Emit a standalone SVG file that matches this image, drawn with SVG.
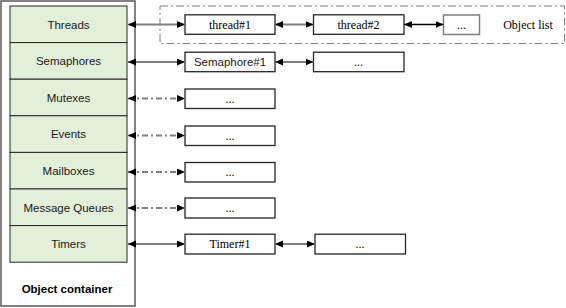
<svg xmlns="http://www.w3.org/2000/svg" width="566" height="308" viewBox="0 0 566 308">
<style>
.cell{fill:#e2efd9;stroke:#262626;stroke-width:1}
.box{fill:#fff;stroke:#262626;stroke-width:1.3}
.lbl{font-family:"Liberation Sans",Arial,sans-serif;font-size:11.5px;fill:#1a1a1a;text-anchor:middle}
.ser{font-family:"Liberation Serif","Times New Roman",serif;font-size:12px;fill:#000;text-anchor:middle}
.ln{stroke:#7f7f7f;stroke-width:2;fill:none;marker-start:url(#ah);marker-end:url(#ah)}
.dd{stroke-dasharray:6 3 2 3}
.blk{stroke:#000;stroke-width:1.3}
</style>
<defs>
<marker id="ah" markerUnits="userSpaceOnUse" markerWidth="9" markerHeight="8" refX="8" refY="3.5" orient="auto-start-reverse">
<path d="M0,0 L8,3.5 L0,7 z" fill="#000"/>
</marker>
</defs>
<rect width="566" height="308" fill="#fff"/>
<g id="container">
<rect x="1" y="1" width="134" height="305" fill="#fff" stroke="#595959" stroke-width="1.5"/>
<text x="67" y="293" font-family="'Liberation Sans',Arial,sans-serif" font-size="11.5" font-weight="bold" text-anchor="middle" fill="#000">Object container</text>
</g>
<g id="objlist">
<rect x="160" y="6" width="404.5" height="37.5" fill="none" stroke="#7f7f7f" stroke-width="1" stroke-dasharray="8 3 2 3"/>
<text x="528" y="28.5" class="ser">Object list</text>
</g>
<g id="cell-threads"><rect class="cell" x="10" y="6" width="117" height="36.6"/><text class="lbl" x="68.5" y="28.5">Threads</text></g>
<g id="cell-semaphores"><rect class="cell" x="10" y="42.6" width="117" height="36.6"/><text class="lbl" x="68.5" y="65">Semaphores</text></g>
<g id="cell-mutexes"><rect class="cell" x="10" y="79.2" width="117" height="36.6"/><text class="lbl" x="68.5" y="101.5">Mutexes</text></g>
<g id="cell-events"><rect class="cell" x="10" y="115.8" width="117" height="36.6"/><text class="lbl" x="68.5" y="138">Events</text></g>
<g id="cell-mailboxes"><rect class="cell" x="10" y="152.4" width="117" height="36.6"/><text class="lbl" x="68.5" y="175">Mailboxes</text></g>
<g id="cell-queues"><rect class="cell" x="10" y="189" width="117" height="36.6"/><text class="lbl" x="68.5" y="211.5">Message Queues</text></g>
<g id="cell-timers"><rect class="cell" x="10" y="225.6" width="117" height="36.6"/><text class="lbl" x="68.5" y="248">Timers</text></g>

<g id="thread1"><rect class="box" x="185" y="14.8" width="90" height="19.5"/><text class="ser" x="230" y="28.5">thread#1</text></g>
<g id="thread2"><rect class="box" x="313.5" y="14.8" width="90.5" height="19.5"/><text class="ser" x="358.5" y="28.5">thread#2</text></g>
<g id="thread-more"><rect x="443.5" y="15" width="36" height="19.5" fill="#fff" stroke="#7f7f7f" stroke-width="1.5"/><text class="ser" x="461.5" y="28.5">...</text></g>
<g id="sem1"><rect class="box" x="185" y="52.2" width="90" height="19.5"/><text class="lbl" x="230" y="66">Semaphore#1</text></g>
<g id="sem-more"><rect class="box" x="313.5" y="52.2" width="90.5" height="19.5"/><text class="ser" x="358.5" y="65.5">...</text></g>
<g id="mutex-more"><rect class="box" x="185" y="89" width="90" height="19.5"/><text class="ser" x="230" y="102.5">...</text></g>
<g id="event-more"><rect class="box" x="185" y="126" width="90" height="19.5"/><text class="ser" x="230" y="139.5">...</text></g>
<g id="mailbox-more"><rect class="box" x="185" y="162.5" width="90" height="19.5"/><text class="ser" x="230" y="176">...</text></g>
<g id="queue-more"><rect class="box" x="185" y="198" width="90" height="20"/><text class="ser" x="230" y="211.5">...</text></g>
<g id="timer1"><rect class="box" x="185" y="234.2" width="90" height="19.8"/><text class="ser" x="230" y="248">Timer#1</text></g>
<g id="timer-more"><rect class="box" x="315" y="234.2" width="90.5" height="19.8"/><text class="ser" x="360" y="248">...</text></g>

<g id="connectors">
<line class="ln" x1="128" y1="24.5" x2="185" y2="24.5"/>
<line class="ln" x1="275" y1="24.5" x2="313.5" y2="24.5"/>
<line class="ln blk" x1="404" y1="24.5" x2="443.5" y2="24.5"/>
<line class="ln" x1="128" y1="62" x2="185" y2="62"/>
<line class="ln" x1="275" y1="62" x2="313.5" y2="62"/>
<line class="ln dd" x1="128" y1="98.5" x2="185" y2="98.5"/>
<line class="ln dd" x1="128" y1="135.5" x2="185" y2="135.5"/>
<line class="ln dd" x1="128" y1="172" x2="185" y2="172"/>
<line class="ln dd" x1="128" y1="208" x2="185" y2="208"/>
<line class="ln" x1="128" y1="244" x2="185" y2="244"/>
<line class="ln" x1="275" y1="244" x2="315" y2="244"/>
</g>
</svg>
